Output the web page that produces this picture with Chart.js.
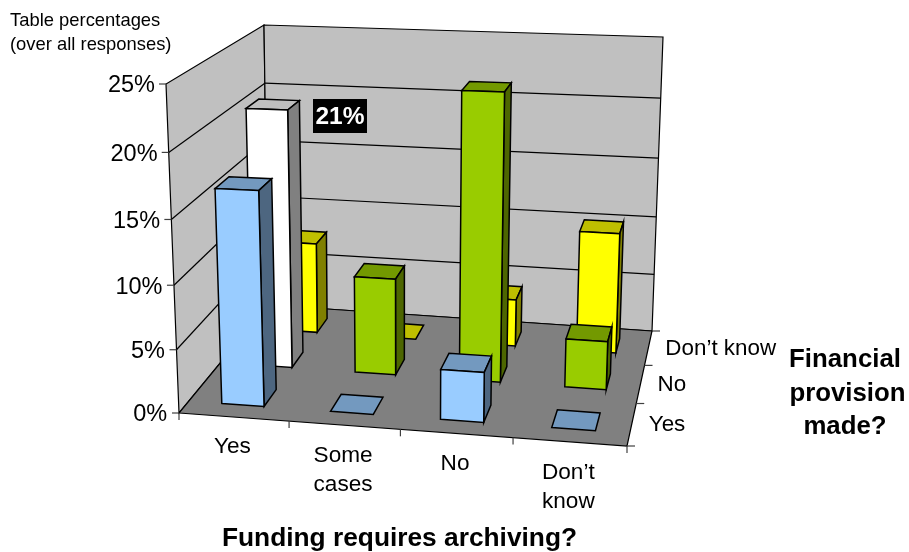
<!DOCTYPE html>
<html>
<head>
<meta charset="utf-8">
<title>Funding requires archiving?</title>
<script src="https://cdn.jsdelivr.net/npm/chart.js@4"></script>
<style>
  html, body { margin: 0; background: #fff; }
  #wrap { width: 909px; height: 552px; }
</style>
</head>
<body>
<div id="wrap"><canvas id="barChart" width="909" height="552"></canvas></div>
<script>
// data
const categories = ['Yes', 'Some cases', 'No', "Don't know"];
const rows = ['Yes', 'No', "Don't know"];
const valueTicks = [0, 5, 10, 15, 20, 25];
const rowYes = [16.8, 0, 3.9, 0];
const rowNo = [21, 7.9, 23, 3.9];
const rowDontKnow = [7.8, 0, 4, 10.1];

// faces of the box the chart sits in, in screen pixels
const floorQuad = [[179, 413], [627, 446], [652, 331], [268, 305]];
const ceilQuad = [[166, 84], [639, 100], [663, 37], [264, 25]];
const barWidth = 0.39, barDepth = 0.42;
const FONT = '"Liberation Sans", Arial, sans-serif';

// unit square -> quad
function homography(q) {
    const [p0, p1, p2, p3] = q;
    const dx1 = p1[0] - p2[0], dx2 = p3[0] - p2[0], sx = p0[0] - p1[0] + p2[0] - p3[0];
    const dy1 = p1[1] - p2[1], dy2 = p3[1] - p2[1], sy = p0[1] - p1[1] + p2[1] - p3[1];
    const den = dx1 * dy2 - dx2 * dy1;
    const g = (sx * dy2 - dx2 * sy) / den, h = (dx1 * sy - sx * dy1) / den;
    const a = p1[0] - p0[0] + g * p1[0], b = p3[0] - p0[0] + h * p3[0];
    const d = p1[1] - p0[1] + g * p1[1], e = p3[1] - p0[1] + h * p3[1];
    return (u, v) => {
        const w = g * u + h * v + 1;
        return [(a * u + b * v + p0[0]) / w, (d * u + e * v + p0[1]) / w];
    };
}
const onFloor = homography(floorQuad);
const onCeil = homography(ceilQuad);

// u across categories, v into the depth, t up the value axis, all 0..1
function project(u, v, t) {
    const a = onFloor(u, v), b = onCeil(u, v);
    const k = t / (1 + 0.05 * (1 - t)); // the top of the box is a little further away
    return [a[0] + (b[0] - a[0]) * k, a[1] + (b[1] - a[1]) * k];
}

function shade(hex, f) {
    const n = parseInt(hex.slice(1), 16);
    const c = [n >> 16, (n >> 8) & 255, n & 255].map(x => Math.round(x * f));
    return 'rgb(' + c.join(',') + ')';
}

function poly(ctx, pts, fill) {
    ctx.beginPath();
    pts.forEach((p, i) => i ? ctx.lineTo(p[0], p[1]) : ctx.moveTo(p[0], p[1]));
    ctx.closePath();
    if (fill) { ctx.fillStyle = fill; ctx.fill(); }
    ctx.stroke();
}

function line(ctx, a, b) {
    ctx.beginPath();
    ctx.moveTo(a[0], a[1]);
    ctx.lineTo(b[0], b[1]);
    ctx.stroke();
}

function label(ctx, text, x, y, size, align, bold) {
    ctx.font = (bold ? 'bold ' : '') + size + 'px ' + FONT;
    ctx.textAlign = align;
    ctx.textBaseline = 'middle';
    ctx.fillStyle = '#000';
    ctx.fillText(text, x, y + 1);
}

const box3d = {
    id: 'box3d',
    beforeDatasetsDraw(chart) {
        const ctx = chart.ctx;
        const sx = chart.scales.x, sy = chart.scales.y, sz = chart.scales.z;
        const fracX = v => (sx.getPixelForValue(v) - sx.left) / sx.width;
        const fracZ = v => (sz.getPixelForValue(v) - sz.left) / sz.width;
        const fracY = v => (sy.bottom - sy.getPixelForValue(v)) / sy.height;

        ctx.save();
        ctx.lineJoin = 'miter';
        ctx.strokeStyle = '#000';
        ctx.lineWidth = 1.2;

        // walls and floor
        poly(ctx, [project(0, 0, 0), project(0, 1, 0), project(0, 1, 1), project(0, 0, 1)], '#C0C0C0');
        poly(ctx, [project(0, 1, 0), project(1, 1, 0), project(1, 1, 1), project(0, 1, 1)], '#C0C0C0');
        poly(ctx, [project(0, 0, 0), project(1, 0, 0), project(1, 1, 0), project(0, 1, 0)], '#808080');

        // grid lines and value axis
        valueTicks.forEach(v => {
            const t = fracY(v);
            if (v > 0 && v < 25) {
                line(ctx, project(0, 0, t), project(0, 1, t));
                line(ctx, project(0, 1, t), project(1, 1, t));
            }
            const p = project(0, 0, t);
            ctx.strokeStyle = '#404040';
            line(ctx, [p[0] - 7, p[1]], p);
            ctx.strokeStyle = '#000';
            label(ctx, v + '%', p[0] - 11 - (25 - v) * 0.03, p[1] + 1, 23.5, 'right');
        });

        // ticks under the front and right edges of the floor
        ctx.strokeStyle = '#404040';
        for (let i = 0; i <= categories.length; i++) {
            const p = project(i / categories.length, 0, 0);
            line(ctx, p, [p[0], p[1] + 7]);
        }
        for (let i = 0; i <= rows.length; i++) {
            const p = project(1, i / rows.length, 0);
            line(ctx, p, [p[0] + 8, p[1]]);
        }
        ctx.strokeStyle = '#000';

        // bars, back row first
        ctx.lineWidth = 1.5;
        for (let s = rows.length - 1; s >= 0; s--) {
            const ds = chart.data.datasets[s];
            ds.data.forEach((val, i) => {
                const cu = fracX(i), cv = fracZ(s), t = fracY(val);
                const hu = barWidth / categories.length / 2, hv = barDepth / rows.length / 2;
                const u0 = cu - hu, u1 = cu + hu, v0 = cv - hv, v1 = cv + hv;
                const col = ds.backgroundColor[i];
                poly(ctx, [project(u0, v0, t), project(u1, v0, t), project(u1, v1, t), project(u0, v1, t)], shade(col, 0.75));
                if (val > 0) {
                    poly(ctx, [project(u1, v0, 0), project(u1, v1, 0), project(u1, v1, t), project(u1, v0, t)], shade(col, 0.5));
                    poly(ctx, [project(u0, v0, 0), project(u1, v0, 0), project(u1, v0, t), project(u0, v0, t)], col);
                }
            });
        }

        // category labels
        const catLines = [['Yes'], ['Some', 'cases'], ['No'], ['Don\u2019t', 'know']];
        catLines.forEach((ls, i) => {
            const p = project(fracX(i), 0, 0);
            ls.forEach((l, k) => label(ctx, l, p[0] - 1.5, p[1] + 28.5 + i * 0.6 + k * 29, 22.6, 'center'));
        });

        // row labels
        ['Yes', 'No', 'Don\u2019t know'].forEach((l, s) => {
            const p = project(1, fracZ(s), 0);
            label(ctx, l, p[0] + 17, p[1], 22.4, 'left');
        });

        // titles
        label(ctx, 'Funding requires archiving?', 399.5, 538, 26.3, 'center', true);
        label(ctx, 'Financial', 845, 359, 25.8, 'center', true);
        label(ctx, 'provision', 847.5, 393, 25.8, 'center', true);
        label(ctx, 'made?', 845, 426, 25.8, 'center', true);
        label(ctx, 'Table percentages', 10, 20, 18.4, 'left');
        label(ctx, '(over all responses)', 10, 44, 18.4, 'left');

        // highlighted value
        ctx.fillStyle = '#000';
        ctx.fillRect(313, 99, 54, 34);
        ctx.font = 'bold 24.5px ' + FONT;
        ctx.textAlign = 'center';
        ctx.textBaseline = 'middle';
        ctx.fillStyle = '#fff';
        ctx.fillText('21%', 340, 117);

        ctx.restore();
        return false;
    }
};

new Chart(document.getElementById('barChart'), {
    type: 'bar',
    data: {
        labels: categories,
        datasets: [
            { label: rows[0], data: rowYes, backgroundColor: rowYes.map(() => '#99CCFF') },
            { label: rows[1], data: rowNo, backgroundColor: rowNo.map((v, i) => i === 0 ? '#FFFFFF' : '#99CC00') },
            { label: rows[2], data: rowDontKnow, backgroundColor: rowDontKnow.map(() => '#FFFF00') }
        ]
    },
    options: {
        responsive: false,
        animation: false,
        plugins: { legend: { display: false }, title: { display: false }, tooltip: { enabled: false } },
        layout: { padding: 0 },
        scales: {
            x: { display: false },
            z: { type: 'category', axis: 'x', position: 'bottom', labels: rows, offset: true, display: false },
            y: { display: false, min: 0, max: 25, ticks: { stepSize: 5 } }
        }
    },
    plugins: [box3d]
});
</script>
</body>
</html>
